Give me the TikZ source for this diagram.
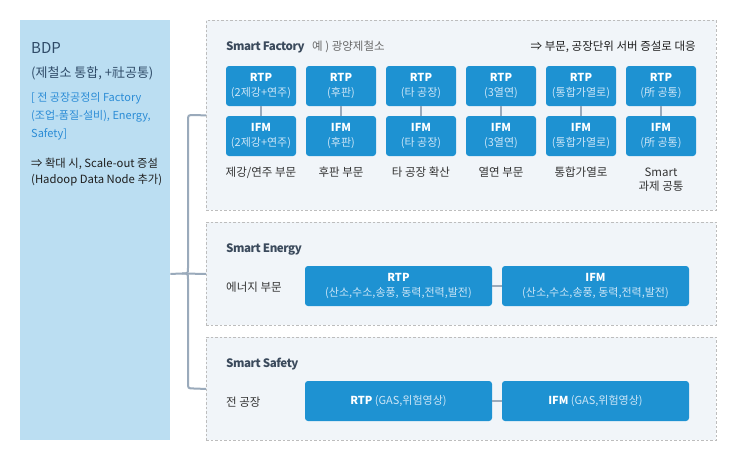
\documentclass[tikz,border=0pt]{standalone}
\usepackage{fontspec}
\setmainfont{Noto Sans CJK KR}
\newfontfamily\tightfont{Noto Sans CJK KR}[LetterSpace=-4]
\usetikzlibrary{calc}

\definecolor{panelblue}{HTML}{BBDEF2}
\definecolor{navytxt}{HTML}{2F4B68}
\definecolor{linkblue}{HTML}{2B8CD6}
\definecolor{inktxt}{HTML}{1E1E1E}
\definecolor{titletxt}{HTML}{3B4A5C}
\definecolor{notegray}{HTML}{6A6A6A}
\definecolor{labeltxt}{HTML}{333333}
\definecolor{zonebg}{HTML}{F1F5F9}
\definecolor{zoneline}{HTML}{BDBDBD}
\definecolor{unitblue}{HTML}{1E92D2}
\definecolor{subtxt}{HTML}{CDE6F7}
\definecolor{wiregray}{HTML}{9AAABB}

\begin{document}
\begin{tikzpicture}[x=1pt,y=-1pt,
  panel/.style={fill=panelblue, draw=none, minimum width=150pt, minimum height=420pt, anchor=north west, inner sep=0pt},
  zone/.style={fill=zonebg, draw=zoneline, line width=0.9pt, dash pattern=on 2.5pt off 2pt,
    minimum width=510pt, anchor=north west, inner sep=0pt},
  unit/.style={fill=unitblue, rounded corners=3pt, text=white, align=center, inner sep=0pt,
    font=\fontsize{11pt}{14.5pt}\selectfont},
  small/.style={unit, minimum width=70pt, minimum height=40pt},
  wide/.style={unit, minimum width=187pt, minimum height=40pt},
  txt/.style={anchor=base west, inner sep=0pt},
  head/.style={txt, text=titletxt, font=\tightfont\fontsize{11.6pt}{14pt}\selectfont\bfseries},
  lab/.style={anchor=base, inner sep=0pt, text=labeltxt, font=\fontsize{11.5pt}{14pt}\selectfont},
  side/.style={txt, text=labeltxt, font=\fontsize{11.5pt}{14pt}\selectfont},
  scopetxt/.style={txt, text=linkblue, font=\fontsize{11pt}{14pt}\selectfont},
  scaletxt/.style={txt, text=inktxt, font=\fontsize{11.3pt}{14pt}\selectfont},
  wire/.style={draw=wiregray, line width=2pt},
]
\useasboundingbox (0,0) rectangle (736,461);
\fill[white] (0,0) rectangle (736,461);

% ---- BDP panel ----
\node[panel] (bdp) at (20,20) {};
\node[txt, text=navytxt, font=\fontsize{15pt}{18pt}\selectfont] (bdpname) at (31,53.5) {BDP};
\node[txt, text=navytxt, font=\fontsize{13pt}{15pt}\selectfont] (bdpsub) at (31,77.5) {(제철소 통합, +社공통)};
\node[scopetxt] (scope1) at (31,101.5) {[ 전 공장공정의 Factory};
\node[scopetxt] (scope2) at (31,119.7) {(조업-품질-설비), Energy,};
\node[scopetxt] (scope3) at (31,137) {Safety]};
\node[scaletxt] (scale1) at (31,167) {⇒ 확대 시, Scale-out 증설};
\node[scaletxt] (scale2) at (31,183.5) {(Hadoop Data Node 추가)};

% ---- zones ----
\node[zone, minimum height=190pt] (fac) at (206,20) {};
\node[zone, minimum height=103pt] (ene) at (206,222) {};
\node[zone, minimum height=103pt] (saf) at (206,337) {};

% ---- bracket from BDP to the three zones ----
\draw[wire] (fac.west) -- (194,115) .. controls (188,115) .. (188,121) -- (188,268)
  .. controls (188,273.5) .. (182,273.5) -- (bdp.east |- ene.west);
\draw[wire] (saf.west) -- (194,388.5) .. controls (188,388.5) .. (188,382.5) -- (188,279)
  .. controls (188,273.5) .. (182,273.5) -- (ene.west);

% ---- Smart Factory ----
\node[head] (facttl) at (226,50) {Smart Factory};
\node[txt, text=notegray, font=\fontsize{11.5pt}{14pt}\selectfont] (facex) at (312,50) {예 ) 광양제철소};
\node[anchor=base east, inner sep=0pt, text=inktxt, font=\fontsize{11.5pt}{14pt}\selectfont] (facnote) at (696,50) {⇒ 부문, 공장단위 서버 증설로 대응};

\foreach \i/\x/\s/\l in {1/261/(2제강+연주)/제강\slash 연주 부문, 2/341/(후판)/후판 부문, 3/421/(타 공장)/타 공장 확산,
                         4/501/(3열연)/열연 부문, 5/581/(통합가열로)/통합가열로, 6/661/(所 공통)/Smart}{
  \node[small] (rtp\i) at (\x,86) {\textbf{RTP}\\\textcolor{subtxt}{\s}};
  \node[small] (ifm\i) at (\x,136) {\textbf{IFM}\\\textcolor{subtxt}{\s}};
  \draw[wire] (rtp\i.south) -- (ifm\i.north);
  \node[lab] (lab\i) at (\x,176) {\l};
}
\node[lab] (lab6b) at (661,190.5) {과제 공통};

% ---- Smart Energy ----
\node[head] (enettl) at (226,252) {Smart Energy};
\node[side] (eneside) at (226,291) {에너지 부문};
\node[wide] (enertp) at (398.5,286) {\textbf{RTP}\\\textcolor{subtxt}{(산소,수소,송풍, 동력,전력,발전)}};
\node[wide] (eneifm) at (595.5,286) {\textbf{IFM}\\\textcolor{subtxt}{(산소,수소,송풍, 동력,전력,발전)}};
\draw[wire] (enertp.east) -- (eneifm.west);

% ---- Smart Safety ----
\node[head] (safttl) at (226,367) {Smart Safety};
\node[side] (safside) at (226,406) {전 공장};
\node[wide] (safrtp) at (398.5,401) {\textbf{RTP} \textcolor{subtxt}{(GAS,위험영상)}};
\node[wide] (safifm) at (595.5,401) {\textbf{IFM} \textcolor{subtxt}{(GAS,위험영상)}};
\draw[wire] (safrtp.east) -- (safifm.west);
\end{tikzpicture}
\end{document}
